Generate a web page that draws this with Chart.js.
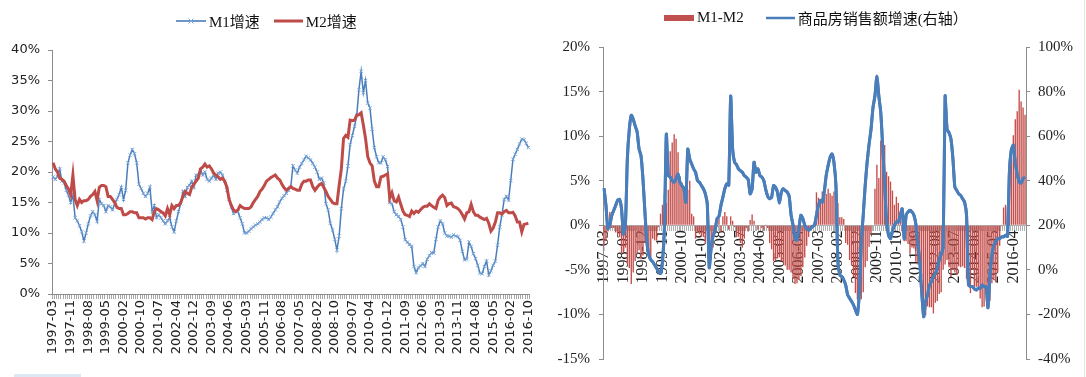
<!DOCTYPE html>
<html>
<head>
<meta charset="utf-8">
<script src="https://cdn.jsdelivr.net/npm/chart.js@4.4.1/dist/chart.umd.min.js"></script>
<style>
  html, body { margin: 0; padding: 0; background: #fff; }
  #wrap { position: relative; width: 1086px; height: 377px; overflow: hidden; background: #fff; }
  canvas { position: absolute; top: 0; }
  #c1 { left: 0; }
  #c2 { left: 545px; }
  .legend { position: absolute; display: flex; align-items: center; white-space: nowrap;
    font-family: "Liberation Serif", "Noto Sans CJK SC", serif; font-size: 15px; color: #111; }
  .legend svg { display: block; margin-right: 3px; }
  .legend span { margin-right: 14px; }
  .shade { position: absolute; left: 14px; top: 374px; width: 67px; height: 3px; background: #dde8f4; }
  .edge { position: absolute; left: 1084px; top: 0; width: 1px; height: 377px; background: #d9ecd9; }
</style>
</head>
<body>
<div id="wrap">
  <canvas id="c1" width="545" height="377"></canvas>
  <canvas id="c2" width="541" height="377"></canvas>

  <div class="legend" style="left:176px; top:10px;">
    <svg width="30" height="12"><line x1="0" y1="6" x2="30" y2="6" stroke="#4A7EBB" stroke-width="1.6"/><path d="M12.5 3.5 L17.5 8.5 M17.5 3.5 L12.5 8.5" stroke="#7aa6d8" stroke-width="1"/></svg>
    <span>M1增速</span>
    <svg width="29" height="12"><line x1="0" y1="6" x2="29" y2="6" stroke="#BE4B48" stroke-width="3"/></svg>
    <span style="margin-right:0">M2增速</span>
  </div>

  <div class="legend" style="left:664px; top:7px;">
    <svg width="30" height="12"><rect x="0" y="3" width="30" height="6" fill="#C0504D"/></svg>
    <span style="margin-right:22px">M1-M2</span>
    <svg width="29" height="12"><line x1="0" y1="6" x2="29" y2="6" stroke="#4A7EBB" stroke-width="2.5"/></svg>
    <span style="margin-right:0">商品房销售额增速(右轴）</span>
  </div>

  <div class="shade"></div>
  <div class="edge"></div>
</div>

<script>
// months 1997-03 .. 2016-10, January not reported (Jan-Feb merged)
const months = [];
for (let y = 1997; y <= 2016; y++) {
  for (let m = 2; m <= 12; m++) {
    if (y === 1997 && m < 3) continue;
    if (y === 2016 && m > 10) continue;
    months.push(y + '-' + String(m).padStart(2, '0'));
  }
}

const leftTickLabels = ['1997-03','1997-11','1998-08','1999-05','2000-02','2000-10','2001-07','2002-04',
  '2002-12','2003-09','2004-06','2005-03','2005-11','2006-08','2007-05','2008-02','2008-10','2009-07',
  '2010-04','2010-12','2011-09','2012-06','2013-03','2013-11','2014-08','2015-05','2016-02','2016-10'];
const rightTickLabels = ['1997-03','1998-02','1998-12','1999-11','2000-10','2001-09','2002-08','2003-07',
  '2004-06','2005-05','2006-04','2007-03','2008-02','2008-12','2009-11','2010-10','2011-09','2012-08',
  '2013-07','2014-06','2015-05','2016-04'];

// M1 yoy growth, %
const m1Growth = [
  19.2, 18.8, 19.3, 20.5, 18.5, 18.2, 17.0, 16.2, 15.0, 16.3,
  12.5, 12.0, 11.2, 10.2, 8.7, 10.0, 11.5, 12.8, 13.5, 13.0, 11.9,
  15.5, 14.8, 14.5, 13.5, 14.5, 14.3, 13.8, 14.8, 15.5, 16.3, 17.5,
  15.5, 17.0, 21.5, 22.8, 23.7, 23.0, 21.5, 18.0, 17.3, 16.5, 16.0,
  16.5, 17.5, 13.5, 14.5, 12.5, 13.0, 12.5, 12.0, 11.5, 12.0, 12.5,
  11.0, 10.2, 12.0, 13.5, 14.8, 16.8, 16.0, 17.5, 17.8, 18.5, 17.5,
  19.5, 19.5, 20.3, 19.5, 20.0, 18.8, 18.5, 19.0, 19.5, 18.8, 19.8,
  20.0, 19.5, 18.5, 17.0, 15.5, 14.2, 13.2, 13.6, 13.5, 12.5, 11.5,
  10.0, 10.0, 10.3, 10.7, 11.0, 11.3, 11.5, 11.8, 12.2, 12.5, 12.5,
  12.2, 12.6, 13.2, 13.8, 14.3, 15.1, 15.7, 16.1, 16.5, 17.0, 17.5,
  21.0, 20.3, 19.8, 20.8, 21.4, 22.0, 22.6, 22.3, 22.0, 21.4, 20.8,
  20.0, 18.8, 19.0, 18.2, 14.8, 13.8, 11.6, 10.5, 9.0, 7.2, 9.5,
  14.0, 17.2, 18.5, 21.0, 24.5, 26.0, 27.5, 29.3, 33.5, 36.5, 33.0,
  35.0, 31.3, 30.5, 27.0, 24.0, 22.5, 21.5, 21.5, 22.5, 22.0, 20.9,
  15.0, 14.8, 13.5, 13.0, 12.7, 12.2, 11.0, 8.9, 8.5, 8.1, 7.8,
  4.5, 3.5, 4.3, 4.6, 5.0, 4.5, 5.7, 6.3, 6.8, 6.7, 9.0,
  11.0, 12.0, 11.5, 10.0, 9.5, 9.5, 9.3, 9.7, 9.5, 9.4, 8.8,
  7.0, 5.6, 5.7, 8.5, 7.8, 6.6, 5.8, 4.7, 3.4, 3.3, 4.5,
  5.4, 3.1, 3.8, 4.7, 5.4, 8.0, 11.0, 13.0, 15.5, 16.0, 15.4,
  18.6, 22.1, 22.9, 23.7, 24.6, 25.4, 25.3, 24.7, 24.0
];

// M2 yoy growth, %
const m2Growth = [
  21.5, 20.5, 20.0, 19.0, 18.8, 18.5, 17.8, 17.2, 16.3, 19.5,
  15.5, 14.5, 15.5, 15.0, 15.3, 15.3, 15.5, 16.0, 16.3, 16.8, 15.3,
  17.5, 17.8, 17.8, 17.6, 16.0, 16.0, 15.5, 15.0, 14.2, 14.0, 14.0,
  13.0, 13.0, 13.2, 13.5, 13.5, 13.3, 13.3, 12.5, 12.5, 12.5, 12.3,
  12.5, 12.5, 12.2, 13.5, 14.0, 13.8, 13.5, 13.3, 12.8, 14.0, 13.0,
  14.5, 14.0, 14.5, 14.5, 15.0, 16.0, 16.8, 16.5, 16.3, 17.5, 18.0,
  18.5, 19.0, 20.5, 20.8, 21.3, 20.8, 21.0, 20.5, 19.8, 19.5, 19.2,
  18.8, 19.0, 18.5, 17.5, 15.5, 14.5, 13.8, 13.5, 13.8, 14.5, 14.2,
  14.0, 14.0, 14.0, 14.3, 15.0, 15.5, 16.0, 16.8, 17.2, 17.8, 18.5,
  18.8, 19.1, 19.3, 19.5, 19.0, 18.7, 18.0, 17.4, 17.0, 17.3, 17.6,
  17.3, 17.2, 17.0, 17.0, 18.0, 18.5, 18.5, 18.7, 18.7, 17.6, 17.0,
  17.5, 17.9, 18.1, 17.5, 16.8, 16.0, 15.5, 15.0, 14.8, 14.8, 17.8,
  20.5, 25.5, 26.0, 25.7, 28.5, 28.4, 28.5, 29.3, 29.4, 29.7, 27.7,
  25.5, 22.5, 21.5, 21.0, 18.5, 17.6, 17.6, 19.2, 19.3, 19.5, 19.7,
  15.7, 16.6, 15.3, 15.1, 15.9, 14.7, 13.6, 13.0, 12.9, 12.7, 13.6,
  13.2, 13.6, 13.4, 13.8, 14.2, 14.4, 14.4, 14.8, 14.5, 14.2, 14.0,
  15.4, 15.9, 16.2, 15.8, 14.5, 14.8, 14.9, 14.3, 14.2, 14.0, 13.6,
  13.0, 12.3, 13.3, 13.5, 14.7, 13.5, 12.9, 12.9, 12.6, 12.4, 12.2,
  12.4, 11.6, 10.3, 10.8, 11.8, 13.3, 13.3, 13.1, 13.5, 13.7, 13.3,
  13.3, 13.4, 12.8, 11.8, 11.8, 10.2, 11.4, 11.5, 11.6
];

// M1-M2 spread, % (left axis of right chart)
const m1MinusM2 = [
  -2.3, -1.7, -0.7, 1.5, -0.3, -0.3, -0.8, -1.0, -1.3, -3.2,
  -3.0, -2.5, -4.3, -4.8, -6.6, -5.3, -4.0, -3.2, -2.8, -3.8, -3.4,
  -2.0, -3.0, -3.3, -4.1, -1.5, -1.7, -1.7, -0.2, 1.3, 2.3, 3.5,
  2.5, 4.0, 8.3, 9.3, 10.2, 9.7, 8.2, 5.5, 4.8, 4.0, 3.7,
  4.0, 5.0, 1.3, 1.0, -1.5, -0.8, -1.0, -1.3, -1.3, -2.0, -0.5,
  -3.5, -3.8, -2.5, -1.0, -0.2, 0.8, -0.8, 1.0, 1.5, 1.0, -0.5,
  1.0, 0.5, -0.2, -1.3, -1.3, -2.0, -2.5, -1.5, -0.3, -0.7, 0.6,
  1.2, 0.5, 0.0, -0.5, 0.0, -0.3, -0.6, 0.1, -0.3, -2.0, -2.7,
  -4.0, -4.0, -3.7, -3.6, -4.0, -4.2, -4.5, -5.0, -5.0, -5.3, -6.0,
  -6.6, -6.5, -6.1, -5.7, -4.7, -3.6, -2.3, -1.3, -0.5, -0.3, -0.1,
  3.7, 3.1, 2.8, 3.8, 3.4, 3.5, 4.1, 3.6, 3.3, 3.8, 3.8,
  2.5, 0.9, 0.9, 0.7, -2.0, -2.2, -3.9, -4.5, -5.8, -7.6, -8.3,
  -6.5, -8.3, -7.5, -4.7, -4.0, -2.4, -1.0, 0.0, 4.1, 6.8, 5.3,
  9.5, 8.8, 9.0, 6.0, 5.5, 4.9, 3.9, 2.3, 3.2, 2.5, 1.2,
  -0.7, -1.8, -1.8, -2.1, -3.2, -2.5, -2.6, -4.1, -4.4, -4.6, -5.8,
  -8.7, -10.1, -9.1, -9.2, -9.2, -9.9, -8.7, -8.5, -7.7, -7.5, -5.0,
  -4.4, -3.9, -4.7, -5.8, -5.0, -5.3, -5.6, -4.6, -4.7, -4.6, -4.8,
  -6.0, -6.7, -7.6, -5.0, -6.9, -6.9, -7.1, -8.2, -9.2, -9.1, -7.7,
  -7.0, -8.5, -6.5, -6.1, -6.4, -5.3, -2.3, -0.1, 2.0, 2.3, 2.1,
  5.3, 8.7, 10.1, 11.9, 12.8, 15.2, 13.9, 13.2, 12.4
];

// commodity housing sales value growth, % (right axis)
const salesGrowth = [
  36.7, 29.0, 18.5, 20.0, 24.5, 26.7, 28.9, 31.2, 31.6, 27.4,
  16.0, 20.0, 50.0, 63.0, 69.4, 67.6, 64.6, 62.0, 54.2, 51.2, 40.8,
  26.0, 12.6, 6.6, 4.5, 3.6, 2.2, 0.7, -0.8, -1.6, 3.6, 18.5,
  60.9, 42.3, 41.6, 40.0, 39.3, 40.8, 43.0, 39.3, 37.8, 36.5, 30.4,
  54.2, 49.7, 47.5, 45.3, 43.8, 40.0, 39.3, 37.8, 36.4, 34.1, 29.5,
  1.0, 10.0, 15.5, 17.8, 23.0, 24.0, 28.9, 32.6, 36.4, 38.6, 38.0,
  78.0, 54.2, 48.3, 47.2, 45.3, 44.5, 43.8, 42.3, 41.6, 40.5, 34.1,
  36.4, 48.3, 43.8, 45.3, 42.3, 41.6, 40.0, 36.0, 33.0, 31.9, 32.6,
  37.8, 37.1, 34.9, 30.0, 34.9, 36.4, 35.6, 34.9, 33.0, 24.5, 20.0,
  14.0, 13.3, 18.5, 24.5, 23.0, 20.0, 18.5, 17.8, 18.5, 19.5, 20.0,
  24.5, 28.9, 31.2, 30.4, 35.0, 42.3, 46.8, 50.5, 52.0, 48.0, 37.8,
  3.6, -2.3, -3.0, -4.5, -6.8, -11.2, -12.7, -14.2, -15.7, -18.0, -20.0,
  -10.0, 12.6, 24.5, 37.8, 48.3, 56.4, 63.1, 72.8, 78.0, 86.9, 78.0,
  70.6, 55.0, 37.8, 21.5, 15.5, 14.0, 17.5, 20.0, 21.5, 21.5, 24.5,
  27.4, 14.0, 24.5, 26.0, 26.7, 26.0, 24.5, 20.5, 12.0, 4.0, -10.0,
  -21.0, -14.2, -11.2, -6.8, -5.3, -3.0, -1.6, 0.7, 4.5, 7.0, 10.0,
  78.0, 63.1, 61.6, 58.7, 50.0, 37.1, 35.6, 34.1, 33.4, 31.9, 30.4,
  24.5, -6.8, -7.5, -7.5, -8.5, -9.0, -8.3, -8.3, -6.8, -7.5, -7.5,
  -17.0, -2.3, 6.6, 11.1, 12.6, 14.0, 14.0, 14.8, 14.8, 15.5, 15.0,
  44.0, 54.0, 56.0, 48.0, 43.0, 39.5, 39.0, 41.0, 41.5
];

const axisGrey = '#8c8c8c';
const leftSet = new Set(leftTickLabels);
const rightSet = new Set(rightTickLabels);

// left chart: M1 / M2 growth
new Chart(document.getElementById('c1'), {
  type: 'line',
  data: {
    labels: months,
    datasets: [
      { label: 'M1增速', data: m1Growth, borderColor: '#4A7EBB', borderWidth: 1.5,
        pointStyle: 'crossRot', pointRadius: 2.4, pointBorderWidth: 1,
        pointBorderColor: '#7aa6d8', pointBackgroundColor: 'rgba(0,0,0,0)', tension: 0, order: 1 },
      { label: 'M2增速', data: m2Growth, borderColor: '#BE4B48', borderWidth: 3,
        pointRadius: 0, tension: 0, order: 0 }
    ]
  },
  options: {
    responsive: false, animation: false, events: [],
    layout: { padding: { top: 50, right: 15, left: 0, bottom: 0 } },
    plugins: { legend: { display: false }, tooltip: { enabled: false } },
    scales: {
      x: {
        offset: true,
        grid: { drawOnChartArea: false, offset: true, tickLength: 5, color: '#a8a8a8' },
        border: { color: axisGrey },
        ticks: {
          autoSkip: false, minRotation: 90, maxRotation: 90, padding: 1, color: '#222',
          font: { family: 'DejaVu Sans', size: 13 },
          callback: (v, i) => leftSet.has(months[i]) ? months[i] : ''
        },
        afterFit: s => { s.height = 83; }
      },
      y: {
        min: 0, max: 40,
        grid: { drawOnChartArea: false, tickLength: 4, color: axisGrey },
        border: { color: axisGrey },
        ticks: { stepSize: 5, padding: 8, color: '#222', font: { family: 'DejaVu Sans', size: 13 },
          callback: v => v + '%' },
        afterFit: s => { s.width = 52; }
      }
    }
  }
});

// draw the sales line again above the category labels
const lineOnTop = {
  id: 'lineOnTop',
  afterDraw(chart) {
    const meta = chart.getDatasetMeta(0);
    const a = chart.chartArea;
    chart.ctx.save();
    chart.ctx.beginPath();
    chart.ctx.rect(a.left, a.top, a.right - a.left, a.bottom - a.top);
    chart.ctx.clip();
    meta.controller.draw();
    chart.ctx.restore();
  }
};

// right chart: M1-M2 spread and housing sales growth
new Chart(document.getElementById('c2'), {
  type: 'bar',
  data: {
    labels: months,
    datasets: [
      { type: 'line', label: '商品房销售额增速(右轴）', data: salesGrowth, yAxisID: 'y2',
        borderColor: '#4A7EBB', borderWidth: 3, pointRadius: 0, tension: 0.2, order: 0 },
      { type: 'bar', label: 'M1-M2', data: m1MinusM2, yAxisID: 'y',
        backgroundColor: '#C44E4B', barPercentage: 0.7, categoryPercentage: 1, order: 1 }
    ]
  },
  options: {
    responsive: false, animation: false, events: [],
    layout: { padding: { top: 47, bottom: 15, left: 0, right: 0 } },
    plugins: { legend: { display: false }, tooltip: { enabled: false } },
    scales: {
      x: {
        position: { y: 0 }, offset: true, z: 1,
        grid: { drawOnChartArea: false, offset: true, tickLength: 5, color: '#b0b0b0' },
        border: { color: '#b0b0b0' },
        ticks: {
          autoSkip: false, minRotation: 90, maxRotation: 90, padding: 0, color: '#222',
          font: { family: 'Liberation Serif', size: 16 },
          callback: (v, i) => rightSet.has(months[i]) ? months[i] : ''
        }
      },
      y: {
        position: 'left', min: -15, max: 20,
        grid: { drawOnChartArea: false, tickLength: 4, color: axisGrey },
        border: { color: axisGrey },
        ticks: { stepSize: 5, padding: 9, color: '#222', font: { family: 'Liberation Serif', size: 15 },
          callback: v => v + '%' },
        afterFit: s => { s.width = 58; }
      },
      y2: {
        position: 'right', min: -40, max: 100,
        grid: { drawOnChartArea: false, tickLength: 4, color: axisGrey },
        border: { color: axisGrey },
        ticks: { stepSize: 20, padding: 8, color: '#222', font: { family: 'Liberation Serif', size: 15 },
          callback: v => v + '%' },
        afterFit: s => { s.width = 60; }
      }
    }
  },
  plugins: [lineOnTop]
});
</script>
</body>
</html>
